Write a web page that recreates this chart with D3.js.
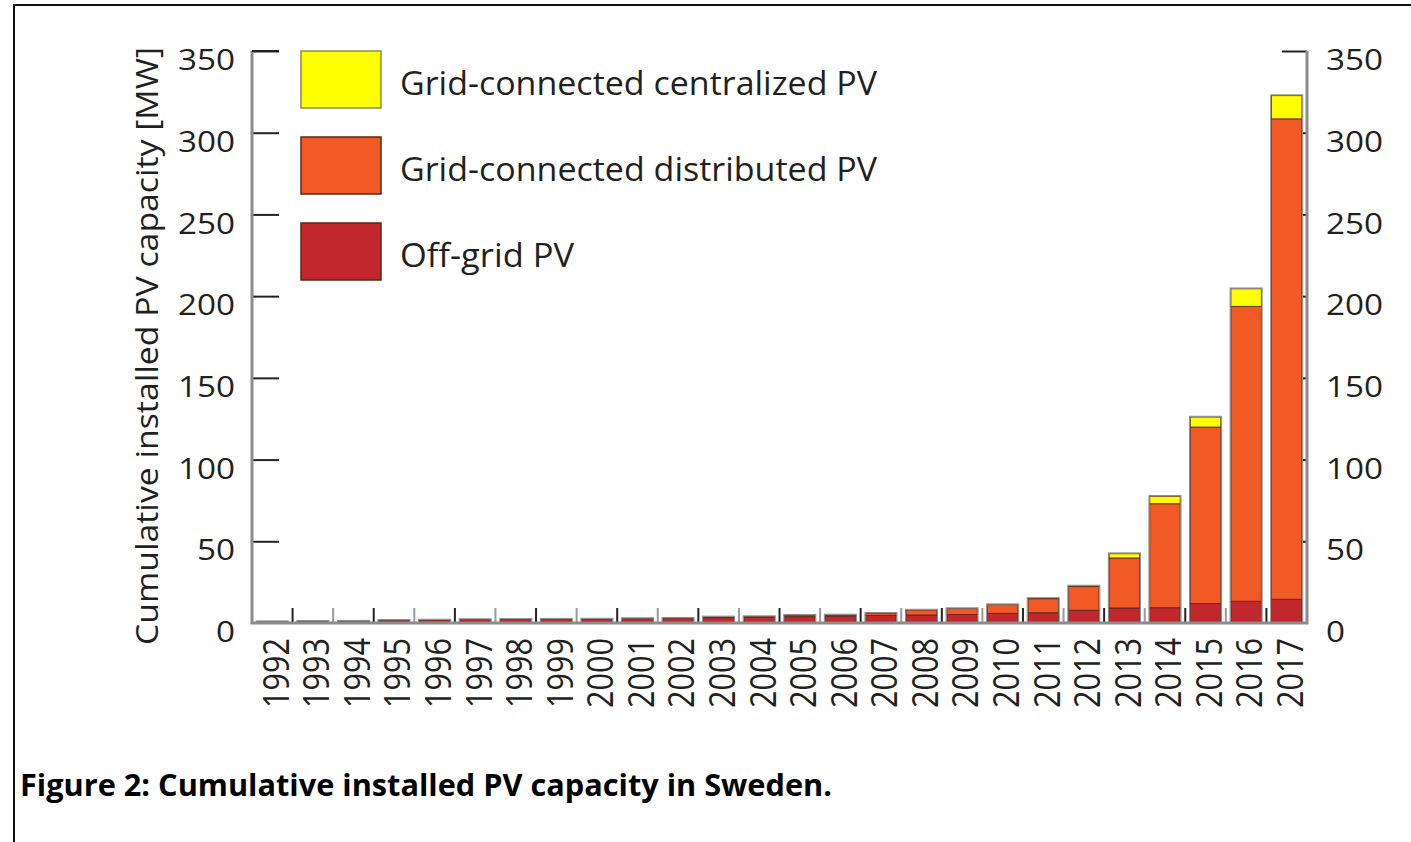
<!DOCTYPE html>
<html>
<head>
<meta charset="utf-8">
<script src="https://cdn.jsdelivr.net/npm/d3@7"></script>
<style>
  body { margin: 0; background: #fff; }
  svg text { font-family: "Open Sans", "Noto Sans", sans-serif; fill: #231f20; }
</style>
</head>
<body>
<script>
// data (MW, cumulative)
const years = ["1992","1993","1994","1995","1996","1997","1998","1999","2000","2001","2002","2003","2004",
               "2005","2006","2007","2008","2009","2010","2011","2012","2013","2014","2015","2016","2017"];
const offGrid     = [0.8,1.0,1.1,1.6,1.8,2.1,2.2,2.3,2.4,2.7,2.9,3.3,3.6,3.9,4.2,4.6,4.9,5.2,5.9,6.3,7.8,9.2,9.4,11.9,13.3,14.5];
const distributed = [0,0,0,0,0,0,0,0,0,0,0,0.4,0.3,0.8,0.7,1.3,3.0,3.6,5.3,8.6,14.5,30.6,63.6,108,180.4,294];
const centralized = [0,0,0,0,0,0,0,0,0,0,0,0,0,0,0,0,0,0,0,0.1,0.3,2.6,4.5,6.1,10.8,14.2];
const yTicks = [0,50,100,150,200,250,300,350];

const seriesKeys   = ["offGrid","distributed","centralized"];
const seriesColors = {offGrid: "#c1272d", distributed: "#f15a24", centralized: "#ffff00"};
const legendItems  = [
  {key: "centralized", label: "Grid-connected centralized PV"},
  {key: "distributed", label: "Grid-connected distributed PV"},
  {key: "offGrid",     label: "Off-grid PV"}
];

const table = years.map((y, i) => ({year: y, offGrid: offGrid[i], distributed: distributed[i], centralized: centralized[i]}));

var svg = d3.select("body").append("svg")
  .attr("width", 1411)
  .attr("height", 842);

svg.append("rect").attr("width", 1411).attr("height", 842).attr("fill", "#fff");

// frame of the page
svg.append("path")
  .attr("d", "M14,842 L14,5 L1411,5")
  .attr("fill", "none")
  .attr("stroke", "#111")
  .attr("stroke-width", 2);

const pLeft = 252, pRight = 1307, pTop = 51, pBottom = 623;

var x = d3.scaleBand()
  .domain(years)
  .range([pLeft, pRight])
  .paddingInner(0.25)
  .paddingOuter(0.125);

var y = d3.scaleLinear()
  .domain([0, 350])
  .range([pBottom, pTop]);

// bars
var stack = d3.stack().keys(seriesKeys)(table);

var bars = svg.append("g");
stack.forEach(layer => {
  bars.append("g")
    .selectAll("rect")
    .data(layer)
    .enter()
    .append("rect")
    .attr("x", d => x(d.data.year))
    .attr("width", x.bandwidth())
    .attr("y", d => y(d[1]))
    .attr("height", d => Math.max(0, y(d[0]) - y(d[1])))
    .attr("fill", seriesColors[layer.key])
    .attr("stroke", "#4a2418")
    .attr("stroke-width", 1)
    .attr("stroke-opacity", 0.8);
});

// gray outline round each stacked bar
bars.append("g")
  .selectAll("rect")
  .data(table)
  .enter()
  .append("rect")
  .attr("x", d => x(d.year) - 0.8)
  .attr("width", x.bandwidth() + 1.6)
  .attr("y", d => y(d.offGrid + d.distributed + d.centralized) - 0.8)
  .attr("height", d => y(0) - y(d.offGrid + d.distributed + d.centralized) + 0.8)
  .attr("fill", "none")
  .attr("stroke", "#8a8a8a")
  .attr("stroke-width", 1);

// left axis
var yAxisL = svg.append("g")
  .attr("transform", `translate(${pLeft},0)`)
  .call(d3.axisLeft(y).tickValues(yTicks).tickSize(-27).tickPadding(17));
yAxisL.select(".domain").remove();
yAxisL.selectAll(".tick line").attr("stroke", "#222").attr("stroke-width", 2);
yAxisL.selectAll(".tick").filter(d => d === 0).select("line").remove();
yAxisL.selectAll(".tick text")
  .attr("font-size", 30)
  .attr("dy", "0.62em")
  .attr("textLength", function() { return this.textContent.length * 19; })
  .attr("lengthAdjust", "spacingAndGlyphs");

// right axis
var yAxisR = svg.append("g")
  .attr("transform", `translate(${pRight},0)`)
  .call(d3.axisRight(y).tickValues(yTicks).tickSize(-4).tickPadding(19));
yAxisR.select(".domain").remove();
yAxisR.selectAll(".tick line").attr("stroke", "#222").attr("stroke-width", 2);
yAxisR.selectAll(".tick").filter(d => d === 350).select("line").attr("x2", -25);
yAxisR.selectAll(".tick").filter(d => d === 0).select("line").remove();
yAxisR.selectAll(".tick text")
  .attr("font-size", 30)
  .attr("dy", "0.62em")
  .attr("textLength", function() { return this.textContent.length * 19; })
  .attr("lengthAdjust", "spacingAndGlyphs");

// bottom axis: labels rotated
var xAxis = svg.append("g")
  .attr("transform", `translate(0,${pBottom})`)
  .call(d3.axisBottom(x).tickSize(0).tickPadding(0));
xAxis.select(".domain").remove();
xAxis.selectAll(".tick text")
  .attr("font-size", 37)
  .attr("text-anchor", "end")
  .attr("y", 0)
  .attr("dy", "0.36em")
  .attr("transform", "translate(3,15) rotate(-90)")
  .attr("textLength", 70)
  .attr("lengthAdjust", "spacingAndGlyphs");

// boundary ticks between bands
var gap = x.step() * x.paddingInner() / 2;
svg.append("g")
  .selectAll("line")
  .data(years.slice(1))
  .enter()
  .append("line")
  .attr("x1", d => x(d) - gap)
  .attr("x2", d => x(d) - gap)
  .attr("y1", pBottom)
  .attr("y2", pBottom - 15)
  .attr("stroke", (d, i) => i % 2 ? "#999" : "#222")
  .attr("stroke-width", 2);

// axis lines (gray)
svg.append("path")
  .attr("d", `M${pLeft},${pTop} L${pLeft},${pBottom} L${pRight},${pBottom} L${pRight},${pTop}`)
  .attr("fill", "none")
  .attr("stroke", "#8c8c8c")
  .attr("stroke-width", 3);
svg.append("line")
  .attr("x1", pLeft).attr("x2", pLeft + 27)
  .attr("y1", y(350)).attr("y2", y(350))
  .attr("stroke", "#222").attr("stroke-width", 2);

// y title
svg.append("text")
  .attr("transform", "translate(158,346) rotate(-90)")
  .attr("text-anchor", "middle")
  .attr("font-size", 31)
  .attr("textLength", 598)
  .attr("lengthAdjust", "spacingAndGlyphs")
  .text("Cumulative installed PV capacity [MW]");

// legend
var legend = svg.append("g");
var li = legend.selectAll("g")
  .data(legendItems)
  .enter()
  .append("g")
  .attr("transform", (d, i) => `translate(301,${51 + i * 86})`);
li.append("rect")
  .attr("width", 80)
  .attr("height", 57)
  .attr("fill", d => seriesColors[d.key])
  .attr("stroke", d => d.key === "centralized" ? "#8a8a50" : "#5a2a1a")
  .attr("stroke-width", 1.5);
li.append("text")
  .attr("x", 99)
  .attr("y", 44)
  .attr("font-size", 33)
  .attr("textLength", d => d.key === "offGrid" ? 174 : 477)
  .attr("lengthAdjust", "spacingAndGlyphs")
  .text(d => d.label);

// caption
svg.append("text")
  .attr("x", 20)
  .attr("y", 796)
  .attr("font-family", "Lato, 'Open Sans', sans-serif")
  .attr("font-weight", "bold")
  .attr("font-size", 30)
  .attr("textLength", 812)
  .attr("lengthAdjust", "spacingAndGlyphs")
  .style("fill", "#000")
  .text("Figure 2: Cumulative installed PV capacity in Sweden.");
</script>
</body>
</html>
